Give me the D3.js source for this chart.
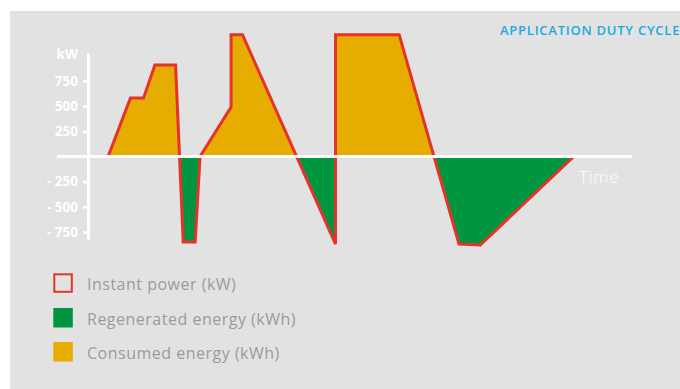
<!DOCTYPE html>
<html>
<head>
<meta charset="utf-8">
<script src="https://cdn.jsdelivr.net/npm/d3@7"></script>
<style>
  html, body { margin: 0; padding: 0; background: #ffffff; }
  svg { display: block; }
</style>
</head>
<body>
<svg id="chart" width="680" height="389"></svg>
<script>
// Duty cycle: instantaneous power over time (arbitrary time units)
const timeSteps = [3.7, 7.8, 10.2, 12.3, 16.1, 17.5, 19.7, 20.6, 26.3, 26.3, 28.4, 45.5, 45.5, 57.2, 68.2, 72.1, 89.3];
const powerKW   = [0, 580, 580, 910, 910, -850, -850, 0, 490, 1210, 1210, -870, 1210, 1210, -870, -880, 0];

const powerTicks = [750, 500, 250, -250, -500, -750];
const axisExtent = [-820, 1030];

const legendLabels = ["Instant power (kW)", "Regenerated energy (kWh)", "Consumed energy (kWh)"];
const titleText = "APPLICATION DUTY CYCLE";
const unitLabel = "kW";
const timeLabel = "Time";

const colors = {
  background: "#e2e2e2",
  line: "#e5332a",
  consumed: "#e6ac00",
  regenerated: "#009640",
  axis: "#ffffff",
  legendText: "#9b9b9b",
  title: "#1ba9e1"
};

const font = "'Open Sans', Lato, sans-serif";

const data = timeSteps.map((t, i) => ({ t, p: powerKW[i] }));

const svg = d3.select("#chart");

svg.append("rect")
  .attr("x", 10).attr("y", 11)
  .attr("width", 670).attr("height", 378)
  .attr("fill", colors.background);

const x = d3.scaleLinear().domain([-5.7, 100]).range([57, 632]);
const y = d3.scaleLinear().domain([-750, 750]).range([232, 81]);

const y0 = y(0);

// Clip regions above and below the zero line
const defs = svg.append("defs");
defs.append("clipPath").attr("id", "above")
  .append("rect").attr("x", 0).attr("y", 0).attr("width", 680).attr("height", y0);
defs.append("clipPath").attr("id", "below")
  .append("rect").attr("x", 0).attr("y", y0).attr("width", 680).attr("height", 389 - y0);

const area = d3.area()
  .x(d => x(d.t))
  .y0(y0)
  .y1(d => y(d.p));

svg.append("path")
  .datum(data)
  .attr("d", area)
  .attr("fill", colors.consumed)
  .attr("clip-path", "url(#above)");

svg.append("path")
  .datum(data)
  .attr("d", area)
  .attr("fill", colors.regenerated)
  .attr("clip-path", "url(#below)");

const line = d3.line().x(d => x(d.t)).y(d => y(d.p));

svg.append("path")
  .datum(data)
  .attr("d", line)
  .attr("fill", "none")
  .attr("stroke", colors.line)
  .attr("stroke-width", 3)
  .attr("stroke-linejoin", "miter");

// Zero (time) line
svg.append("line")
  .attr("x1", x.range()[0]).attr("x2", x.range()[1])
  .attr("y1", y0).attr("y2", y0)
  .attr("stroke", colors.axis)
  .attr("stroke-width", 3);

// Power axis
const yAxisScale = d3.scaleLinear().domain(axisExtent).range([y(axisExtent[0]), y(axisExtent[1])]);
const fmt = v => v < 0 ? "- " + Math.abs(v) : String(v);

const yAxis = svg.append("g")
  .attr("transform", `translate(${x(0)},0)`)
  .call(d3.axisLeft(yAxisScale)
    .tickValues(powerTicks)
    .tickFormat(fmt)
    .tickSize(5)
    .tickSizeOuter(0)
    .tickPadding(5));

yAxis.select(".domain").attr("stroke", colors.axis).attr("stroke-width", 3);
yAxis.selectAll(".tick line").attr("stroke", colors.axis).attr("stroke-width", 2.5);
yAxis.selectAll(".tick text")
  .attr("fill", colors.axis)
  .style("font-family", font)
  .style("font-weight", "bold")
  .style("font-size", "13.5px");

svg.append("text")
  .attr("x", 78).attr("y", 59)
  .attr("text-anchor", "end")
  .attr("fill", colors.axis)
  .style("font-family", font)
  .style("font-weight", "bold")
  .style("font-size", "13.5px")
  .text(unitLabel);

svg.append("text")
  .attr("x", 579).attr("y", 182.5)
  .attr("fill", colors.axis)
  .style("font-family", font)
  .style("font-weight", 300)
  .style("font-size", "17px")
  .style("letter-spacing", "0.8px")
  .text(timeLabel);

svg.append("text")
  .attr("x", 500).attr("y", 34.5)
  .attr("fill", colors.title)
  .style("font-family", font)
  .style("font-weight", 600)
  .style("font-size", "13px")
  .style("letter-spacing", "0.75px")
  .text(titleText);

// Legend
const legendY = [274.3, 309, 343];
const legendStyles = [
  { fill: "none", stroke: colors.line },
  { fill: colors.regenerated, stroke: "none" },
  { fill: colors.consumed, stroke: "none" }
];

const legend = svg.append("g");
legendLabels.forEach((label, i) => {
  const s = legendStyles[i];
  if (s.stroke !== "none") {
    legend.append("rect")
      .attr("x", 54.3).attr("y", legendY[i])
      .attr("width", 17.5).attr("height", 17.5)
      .attr("fill", s.fill)
      .attr("stroke", s.stroke)
      .attr("stroke-width", 2);
  } else {
    legend.append("rect")
      .attr("x", 53.3).attr("y", legendY[i] - 1)
      .attr("width", 19.5).attr("height", 19.5)
      .attr("fill", s.fill);
  }
  legend.append("text")
    .attr("x", 87).attr("y", legendY[i] + 15.5)
    .attr("fill", colors.legendText)
    .style("font-family", font)
    .style("font-size", "16px")
    .style("letter-spacing", "0.5px")
    .text(label);
});
</script>
</body>
</html>
